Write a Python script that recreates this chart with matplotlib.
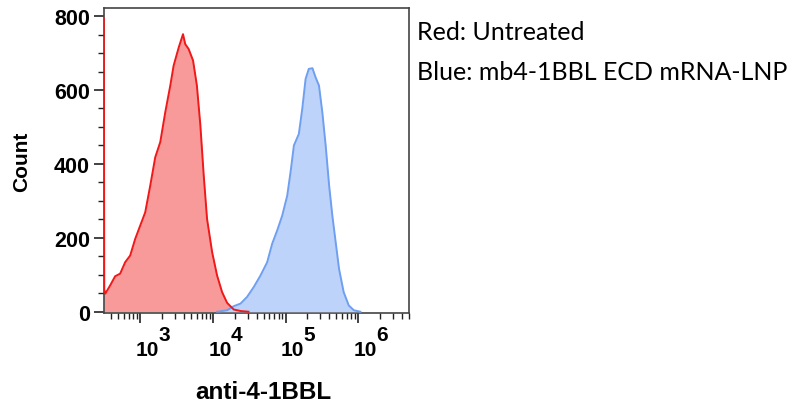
import numpy as np
import matplotlib
matplotlib.use("Agg")
import matplotlib.pyplot as plt
import matplotlib.transforms as mtransforms

# histogram traces, x given as log10(fluorescence), y as event count
red_logx = [2.50, 2.505, 2.52, 2.586, 2.655, 2.724, 2.793, 2.862, 2.931, 3.0, 3.069, 3.138,
            3.207, 3.276, 3.345, 3.414, 3.46, 3.53, 3.589, 3.62, 3.666, 3.727, 3.78,
            3.828, 3.874, 3.92, 3.99, 4.058, 4.127, 4.196, 4.287, 4.38, 4.49]
red_count = [792, 60, 49, 71, 96, 103, 134, 152, 197, 233, 269, 341,
             418, 459, 540, 612, 666, 715, 751, 724, 711, 680, 612,
             504, 369, 251, 161, 98, 53, 24, 6, 2, 0]

blue_logx = [4.058, 4.196, 4.287, 4.38, 4.47, 4.563, 4.655, 4.747, 4.816, 4.885, 4.954,
             5.023, 5.069, 5.115, 5.183, 5.23, 5.276, 5.32, 5.37, 5.414, 5.46, 5.506,
             5.552, 5.6, 5.644, 5.69, 5.736, 5.8, 5.87, 5.94, 6.03]
blue_count = [0, 4, 15, 22, 40, 67, 98, 134, 184, 220, 260,
              314, 378, 450, 481, 549, 630, 657, 659, 634, 612, 540,
              450, 341, 260, 188, 116, 53, 17, 4, 0]

decades = [3, 4, 5, 6]
y_ticks = [0, 200, 400, 600, 800]
legend_lines = ["Red: Untreated", "Blue: mb4-1BBL ECD mRNA-LNP"]

plt.rcParams['font.family'] = ['Liberation Sans', 'DejaVu Sans']

fig = plt.figure(figsize=(7.99, 4.06), dpi=100)
ax = fig.add_axes([0.130, 0.227, 0.382, 0.751])

rx = 10 ** np.array(red_logx)
bx = 10 ** np.array(blue_logx)

ax.fill_between(rx, red_count, 0, color='#f89a9a', lw=0, zorder=2)
ax.fill_between(bx, blue_count, 0, color='#bdd3fa', lw=0, zorder=3)
ax.plot(bx, blue_count, color='#6f9ff0', lw=1.4, zorder=4)
ax.plot(rx, red_count, color='#f01818', lw=1.4, zorder=5)

ax.set_xscale('log')
ax.set_xlim(10 ** 2.5, 10 ** 6.7)
ax.set_ylim(-3, 822)

ax.set_yticks(y_ticks)
ax.set_yticks(np.arange(0, 801, 50), minor=True)
ax.set_yticklabels([str(v) for v in y_ticks], fontsize=15.5, fontweight='bold')
ax.set_xticks([10 ** d for d in decades])
ax.set_xticklabels([])
ax.tick_params(axis='both', which='major', length=7, width=1.2, color='#222222', direction='out')
ax.tick_params(axis='both', which='minor', length=4, width=1.0, color='#222222', direction='out')
ax.tick_params(axis='y', pad=3)

for s in ax.spines.values():
    s.set_color('#444444')
    s.set_linewidth(1.2)

# "10" with raised exponent, drawn as in the cytometry software
trans = mtransforms.blended_transform_factory(ax.transData, ax.transAxes)
off_base = mtransforms.offset_copy(trans, fig=fig, x=7, y=-37, units='dots')
off_exp = mtransforms.offset_copy(trans, fig=fig, x=24, y=-22, units='dots')
for d in decades:
    ax.text(10 ** d, 0, "10", transform=off_base, ha='center', va='center',
            fontsize=15, fontweight='bold')
    ax.text(10 ** d, 0, str(d), transform=off_exp, ha='center', va='center',
            fontsize=15, fontweight='bold')

fig.text(22 / 799, 1 - 162 / 406, "Count", rotation=90, ha='center', va='center',
         fontsize=15, fontweight='bold')
fig.text(263 / 799, 1 - 393 / 406, "anti-4-1BBL", ha='center', va='center',
         fontsize=17.5, fontweight='bold')

for i, line in enumerate(legend_lines):
    fig.text(417 / 799, 1 - (33 + 40 * i) / 406, line, ha='left', va='center',
             fontsize=18, family=['Lato', 'DejaVu Sans'])

fig.savefig("out.png", dpi=100)
